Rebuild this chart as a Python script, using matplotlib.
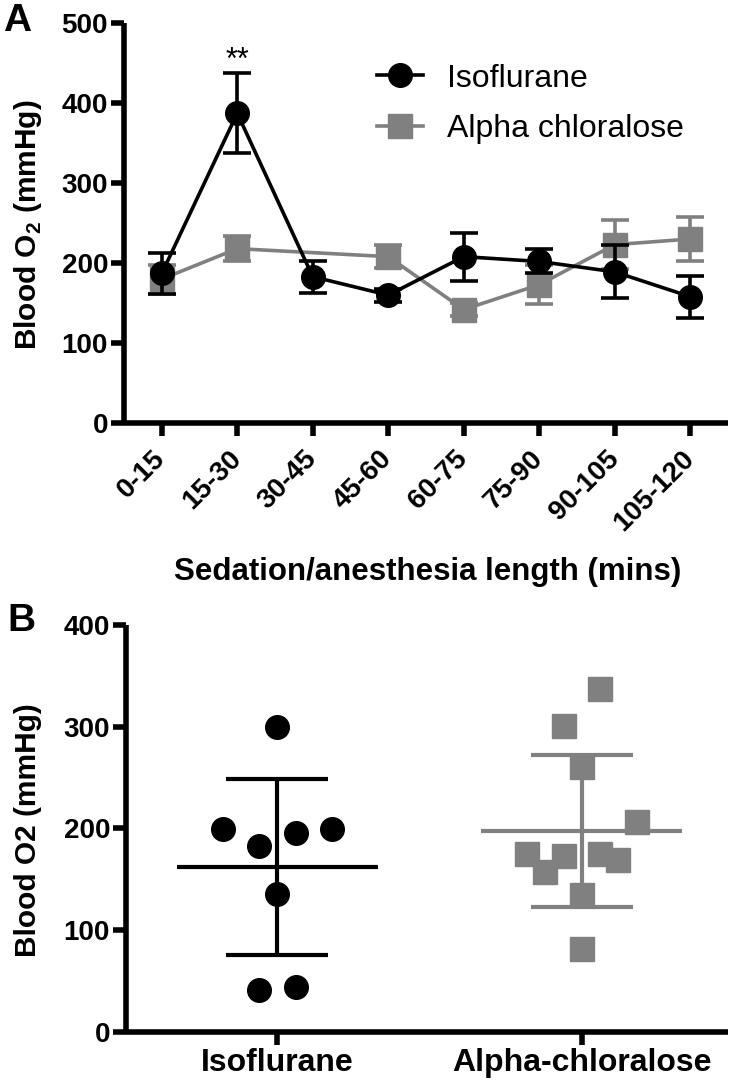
import numpy as np
import matplotlib
matplotlib.use("Agg")
import matplotlib.pyplot as plt
from matplotlib.lines import Line2D

plt.rcParams['font.family'] = ['Liberation Sans', 'DejaVu Sans']
plt.rcParams['mathtext.fontset'] = 'custom'
plt.rcParams['mathtext.rm'] = 'Liberation Sans'
plt.rcParams['mathtext.bf'] = 'Liberation Sans:bold'

# ---------------- data: panel A ----------------
categories = ['0-15', '15-30', '30-45', '45-60', '60-75', '75-90', '90-105', '105-120']
iso_mean = [187, 387, 183, 160, 208, 202, 189, 158]
iso_sem = [25, 50, 20, 8, 30, 15, 33, 26]
alpha_mean = [180, 218, np.nan, 208, 142, 173, 223, 230]
alpha_sem = [18, 16, np.nan, 14, 8, 24, 31, 27]
series_names = ['Isoflurane', 'Alpha chloralose']

# ---------------- data: panel B ----------------
groups_b = ['Isoflurane', 'Alpha-chloralose']
iso_values = [300, 199, 183, 195, 199, 135, 41, 44]
iso_jitter = [0, -0.18, -0.06, 0.06, 0.18, 0, -0.06, 0.06]
alpha_values = [337, 301, 260, 206, 175, 173, 157, 175, 169, 134, 81]
alpha_jitter = [0.06, -0.06, 0, 0.18, -0.18, -0.06, -0.12, 0.06, 0.12, 0, 0]

BLACK = '#000000'
GRAY = '#808080'

W, H = 736, 1084
fig = plt.figure(figsize=(W / 100, H / 100), dpi=100)


def rect(l, t, r, b):
    return [l / W, 1 - b / H, (r - l) / W, (b - t) / H]


axA = fig.add_axes(rect(124, 22.7, 728, 423.3))
axB = fig.add_axes(rect(126, 625, 728, 1031.7))

SPINE_W = 4
for ax in (axA, axB):
    for s in ('top', 'right'):
        ax.spines[s].set_visible(False)
    for s in ('left', 'bottom'):
        ax.spines[s].set_linewidth(SPINE_W)
        ax.spines[s].set_capstyle('butt')
    ax.tick_params(direction='out', length=9.5, width=SPINE_W, labelsize=20, pad=2)

# ---------------- panel A ----------------
x = np.arange(len(categories))
am = np.array(alpha_mean, dtype=float)
ae = np.array(alpha_sem, dtype=float)
mask = ~np.isnan(am)
axA.errorbar(x[mask], am[mask], yerr=ae[mask], fmt='s-', color=GRAY, ms=17,
             lw=2.6, elinewidth=2.6, capsize=10, capthick=2.6, zorder=2)
axA.errorbar(x, iso_mean, yerr=iso_sem, fmt='o-', color=BLACK, ms=17,
             lw=2.6, elinewidth=2.6, capsize=10, capthick=2.6, zorder=3)

axA.set_xlim(-0.5, 7.5)
axA.set_ylim(0, 500)
axA.set_yticks(np.arange(0, 501, 100))
axA.set_xticks(x)
axA.set_xticklabels(categories, rotation=45, ha='right', va='center',
                    rotation_mode='anchor', fontweight='bold', fontsize=20)
axA.tick_params(axis='x', pad=13)
for lab in axA.get_yticklabels():
    lab.set_fontweight('bold')

axA.annotate('**', xy=(1, iso_mean[1] + iso_sem[1]), xytext=(0, 3),
             textcoords='offset points', ha='center', va='baseline', fontsize=22)

handles = [Line2D([0], [0], color=BLACK, marker='o', ms=17, lw=2.6),
           Line2D([0], [0], color=GRAY, marker='s', ms=17, lw=2.6)]
axA.legend(handles, series_names, loc='center left',
           bbox_to_anchor=(377 / W, 1 - 104 / H), bbox_transform=fig.transFigure,
           frameon=False, fontsize=23, handlelength=1.44, handletextpad=0.75,
           labelspacing=0.65, borderpad=0, borderaxespad=0)

fig.text(28 / W, 1 - 225 / H, r'Blood O$_\mathbf{2}$ (mmHg)', rotation=90,
         ha='center', va='center', fontsize=21.5, fontweight='bold')
fig.text(428 / W, 1 - 572 / H, 'Sedation/anesthesia length (mins)',
         ha='center', va='center', fontsize=22.5, fontweight='bold')
fig.text(17 / W, 1 - 21 / H, 'A', ha='center', va='center', fontsize=28, fontweight='bold')

# ---------------- panel B ----------------
for i, (vals, jit, col, mk) in enumerate([(iso_values, iso_jitter, BLACK, 'o'),
                                          (alpha_values, alpha_jitter, GRAY, 's')]):
    v = np.array(vals, dtype=float)
    m = v.mean()
    sd = v.std(ddof=1)
    axB.errorbar([i], [m], yerr=[sd], fmt='none', ecolor=col, elinewidth=3,
                 capsize=36.5, capthick=3, zorder=2)
    axB.hlines(m, i - 0.33, i + 0.33, color=col, lw=3, zorder=2)
    axB.plot(i + np.array(jit), v, linestyle='none', marker=mk, ms=17,
             color=col, mec=col, zorder=3)

axB.set_xlim(-0.497, 1.48)
axB.set_ylim(0, 400)
axB.set_yticks(np.arange(0, 401, 100))
axB.set_xticks([0, 1])
axB.set_xticklabels(groups_b, fontweight='bold', fontsize=23)
axB.tick_params(axis='x', pad=2)
for lab in axB.get_yticklabels():
    lab.set_fontweight('bold')

fig.text(28 / W, 1 - 830 / H, 'Blood O2 (mmHg)', rotation=90,
         ha='center', va='center', fontsize=21.5, fontweight='bold')
fig.text(21 / W, 1 - 621 / H, 'B', ha='center', va='center', fontsize=28, fontweight='bold')

fig.savefig('out.png', dpi=100)
